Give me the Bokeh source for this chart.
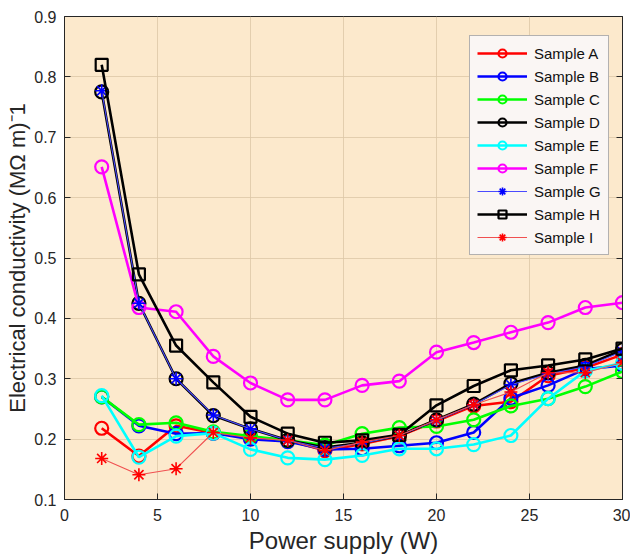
from bokeh.plotting import figure
from bokeh.models import LinearAxis, Legend, LegendItem, FixedTicker, Range1d
from bokeh.embed import file_html
from bokeh.resources import INLINE

power = [2, 4, 6, 8, 10, 12, 14, 16, 18, 20, 22, 24, 26, 28, 30]

sample_a = [0.218, 0.172, 0.222, 0.210, 0.203, 0.198, 0.181, 0.192, 0.205, 0.230, 0.255, 0.262, 0.305, 0.318, 0.340]
sample_b = [0.270, 0.222, 0.209, 0.210, 0.200, 0.196, 0.183, 0.184, 0.189, 0.194, 0.211, 0.268, 0.289, 0.316, 0.322]
sample_c = [0.270, 0.224, 0.227, 0.212, 0.205, 0.198, 0.190, 0.209, 0.219, 0.221, 0.232, 0.255, 0.267, 0.287, 0.312]
sample_d = [0.775, 0.425, 0.300, 0.239, 0.217, 0.198, 0.186, 0.194, 0.206, 0.232, 0.258, 0.292, 0.310, 0.322, 0.348]
sample_e = [0.272, 0.170, 0.205, 0.210, 0.183, 0.169, 0.166, 0.173, 0.184, 0.184, 0.191, 0.206, 0.267, 0.313, 0.326]
sample_f = [0.651, 0.418, 0.411, 0.337, 0.293, 0.265, 0.265, 0.289, 0.296, 0.344, 0.360, 0.377, 0.393, 0.418, 0.426]
sample_g = [0.777, 0.425, 0.300, 0.240, 0.217, 0.198, 0.185, 0.193, 0.206, 0.231, 0.257, 0.290, 0.308, 0.320, 0.345]
sample_h = [0.820, 0.473, 0.355, 0.294, 0.237, 0.209, 0.194, 0.198, 0.207, 0.256, 0.288, 0.314, 0.322, 0.332, 0.350]
sample_i = [0.168, 0.141, 0.151, 0.211, 0.202, 0.198, 0.181, 0.195, 0.206, 0.232, 0.257, 0.278, 0.310, 0.310, 0.327]

labels = ["Sample A", "Sample B", "Sample C", "Sample D", "Sample E",
          "Sample F", "Sample G", "Sample H", "Sample I"]
x_ticks = [0, 5, 10, 15, 20, 25, 30]
y_ticks = [0.1, 0.2, 0.3, 0.4, 0.5, 0.6, 0.7, 0.8, 0.9]

series = [sample_a, sample_b, sample_c, sample_d, sample_e, sample_f, sample_g, sample_h, sample_i]
styles = [
    dict(color="#ff0000", lw=2.6, marker="circle", size=13),
    dict(color="#0000ff", lw=2.6, marker="circle", size=13),
    dict(color="#00ff00", lw=2.6, marker="circle", size=13),
    dict(color="#000000", lw=2.6, marker="circle", size=13),
    dict(color="#00ffff", lw=2.6, marker="circle", size=13),
    dict(color="#ff00ff", lw=2.6, marker="circle", size=13),
    dict(color="#4a4aff", lw=1.1, marker="asterisk", size=13, mcolor="#0000ff"),
    dict(color="#000000", lw=2.6, marker="square", size=12),
    dict(color="#f05050", lw=1.1, marker="asterisk", size=13, mcolor="#ff0000"),
]

FONT = "Liberation Sans"

p = figure(width=630, height=558, output_backend="svg", toolbar_location=None,
           x_range=Range1d(0, 30), y_range=Range1d(0.1, 0.9),
           min_border_left=64, min_border_right=8, min_border_top=16, min_border_bottom=59,
           background_fill_color="#fce9cc", border_fill_color="white")

p.outline_line_color = "#262626"
p.outline_line_width = 1

items = []
for lab, ys, st in zip(labels, series, styles):
    r1 = p.line(power, ys, line_color=st["color"], line_width=st["lw"])
    mc = st.get("mcolor", st["color"])
    r2 = p.scatter(power, ys, marker=st["marker"], size=st["size"],
                   line_color=mc, fill_color=None,
                   line_width=2.2 if st["marker"] != "asterisk" else 1.6)
    items.append(LegendItem(label=lab, renderers=[r1, r2]))

for ax in (p.xaxis[0], p.yaxis[0]):
    ax.major_tick_in = 6
    ax.major_tick_out = 0
    ax.minor_tick_in = 0
    ax.minor_tick_out = 0
    ax.axis_line_color = "#262626"
    ax.major_tick_line_color = "#262626"
    ax.major_label_text_font = FONT
    ax.major_label_text_font_size = "16px"
    ax.major_label_text_color = "#262626"
    ax.axis_label_text_font = FONT
    ax.axis_label_text_font_style = "normal"
    ax.axis_label_text_color = "#262626"

p.xaxis[0].ticker = FixedTicker(ticks=x_ticks)
p.yaxis[0].ticker = FixedTicker(ticks=y_ticks)
p.xaxis[0].axis_label = "Power supply (W)"
p.yaxis[0].axis_label = "Electrical conductivity (MΩ m)⁻1"
p.xaxis[0].axis_label_text_font_size = "24px"
p.yaxis[0].axis_label_text_font_size = "22px"
p.xaxis[0].major_label_standoff = 9
p.yaxis[0].major_label_standoff = 8
p.xaxis[0].axis_label_standoff = 3
p.yaxis[0].axis_label_standoff = 1

right = LinearAxis(ticker=FixedTicker(ticks=y_ticks), major_label_text_font_size="0px",
                   major_label_standoff=0,
                   major_tick_in=6, major_tick_out=0, minor_tick_in=0, minor_tick_out=0,
                   axis_line_color="#262626", major_tick_line_color="#262626")
p.add_layout(right, "right")

p.xgrid.ticker = FixedTicker(ticks=x_ticks)
p.ygrid.ticker = FixedTicker(ticks=y_ticks)
p.grid.grid_line_color = "#dcc7a6"
p.grid.grid_line_alpha = 0.8
p.grid.grid_line_width = 1

legend = Legend(items=items, location=(405, 244))
legend.label_text_font = FONT
legend.label_text_font_size = "15px"
legend.label_text_color = "#111111"
legend.glyph_width = 50
legend.glyph_height = 20
legend.label_height = 20
legend.spacing = 3
legend.padding = 7
legend.label_standoff = 7
legend.background_fill_color = "#faf6f4"
legend.background_fill_alpha = 1
legend.border_line_color = "#6b6b6b"
legend.border_line_width = 1
p.add_layout(legend, "center")

open("out.html", "w").write(file_html(p, INLINE))
